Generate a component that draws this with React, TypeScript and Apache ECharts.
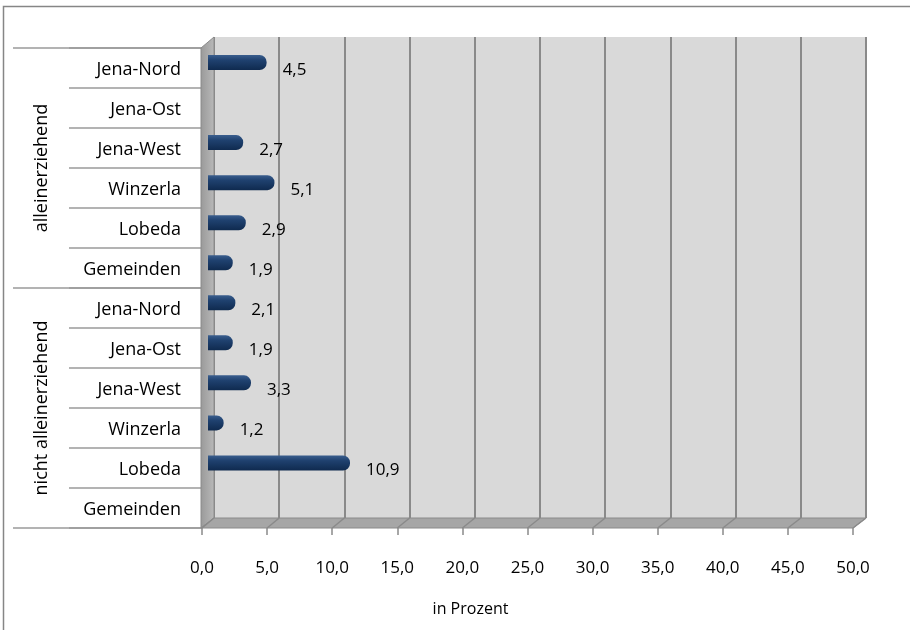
import React, { useEffect, useRef } from "react";
import * as echarts from "echarts";

const groups = ["alleinerziehend", "nicht alleinerziehend"];
const districts = ["Jena-Nord", "Jena-Ost", "Jena-West", "Winzerla", "Lobeda", "Gemeinden"];
const valuesAlleinerziehend: (number | null)[] = [4.5, null, 2.7, 5.1, 2.9, 1.9];
const valuesNichtAlleinerziehend: (number | null)[] = [2.1, 1.9, 3.3, 1.2, 10.9, null];
const axisMin = 0;
const axisMax = 50;
const axisInterval = 5;
const axisTitle = "in Prozent";

const fmt = (v: number) => v.toFixed(1).replace(".", ",");

export default function App() {
  const ref = useRef<HTMLDivElement>(null);
  useEffect(() => {
    if (!ref.current) return;
    const chart = echarts.init(ref.current, undefined, { renderer: "svg" });
    const keys = groups.flatMap((g) => districts.map((d) => g + "|" + d));
    const values = [...valuesAlleinerziehend, ...valuesNichtAlleinerziehend];
    const font = "'Open Sans', sans-serif";
    const gray = "#8a8a8a";

    const option: any = {
      animation: false,
      grid: [
        { left: 214, right: 44, top: 37, bottom: 112, show: true, backgroundColor: "#d9d9d9", borderWidth: 0, outerBoundsMode: "none", containLabel: false },
        { left: 202, right: 57, top: 48, bottom: 102, outerBoundsMode: "none", containLabel: false },
        { left: 208, right: 50.5, top: 42.5, bottom: 107, outerBoundsMode: "none", containLabel: false },
      ],
      xAxis: [
        {
          gridIndex: 0, type: "value", min: axisMin, max: axisMax, interval: axisInterval,
          axisLabel: { show: false }, axisLine: { show: false }, axisTick: { show: false },
          splitLine: { show: true, lineStyle: { color: gray, width: 2 } },
        },
        {
          gridIndex: 1, type: "value", min: axisMin, max: axisMax, interval: axisInterval,
          axisLine: { show: false },
          axisTick: { show: true, length: 7, lineStyle: { color: gray, width: 1.5 } },
          splitLine: { show: false },
          axisLabel: { formatter: (v: number) => fmt(v), margin: 30, fontSize: 17, color: "#000", fontFamily: font },
          name: axisTitle, nameLocation: "middle", nameGap: 72,
          nameTextStyle: { fontSize: 16, color: "#000", fontFamily: font, padding: [0, 114, 0, 0] },
        },
        {
          gridIndex: 2, type: "value", min: axisMin, max: axisMax, show: false,
        },
      ],
      yAxis: [
        { gridIndex: 0, type: "category", data: keys, inverse: true, show: false },
        {
          gridIndex: 1, type: "category", data: keys, inverse: true, offset: 1, position: "left",
          axisLine: { show: false },
          axisTick: { show: true, length: 133, alignWithLabel: false, lineStyle: { color: "#9a9a9a", width: 1.5 } },
          axisLabel: {
            interval: 0, margin: 20, fontSize: 18, color: "#000", fontFamily: font,
            formatter: (v: string) => v.split("|")[1],
          },
        },
        {
          gridIndex: 1, type: "category", data: groups, inverse: true, offset: 1, position: "left",
          axisLine: { show: false },
          axisTick: { show: true, length: 188, alignWithLabel: false, lineStyle: { color: "#9a9a9a", width: 1.5 } },
          axisLabel: { interval: 0, rotate: 90, margin: 152, fontSize: 18, color: "#000", fontFamily: font },
        },
        { gridIndex: 2, type: "category", data: keys, inverse: true, show: false },
      ],
      series: [
        {
          type: "bar",
          xAxisIndex: 2,
          yAxisIndex: 3,
          data: values,
          barWidth: 15,
          z: 5,
          itemStyle: {
            borderRadius: [0, 7, 7, 0],
            color: new echarts.graphic.LinearGradient(0, 0, 0, 1, [
              { offset: 0, color: "#3a5e8e" },
              { offset: 0.35, color: "#1f416f" },
              { offset: 1, color: "#0f2a4f" },
            ]),
          },
          label: {
            show: true,
            position: "right",
            distance: 16,
            offset: [0, 6],
            fontSize: 17,
            color: "#000",
            fontFamily: font,
            formatter: (p: any) => fmt(p.value),
          },
        },
      ],
    };
    chart.setOption(option);

    const ticks: number[] = [];
    for (let v = axisMin; v <= axisMax; v += axisInterval) ticks.push(v);
    const backY0 = 37, backY1 = 518, frontY1 = 528, frontTop = 48;
    const xb = (v: number) => chart.convertToPixel({ xAxisIndex: 0 }, v) as number;
    const xf = (v: number) => chart.convertToPixel({ xAxisIndex: 1 }, v) as number;
    const wallL = 201;
    const graphic: any[] = [
      {
        type: "rect", shape: { x: 3.5, y: 6.5, width: 910, height: 630 }, silent: true,
        style: { fill: "none", stroke: "#868686", lineWidth: 1.5 }, z: 0,
      },
      {
        type: "polygon", silent: true, z: 1,
        shape: { points: [[wallL, frontTop], [xb(axisMin), backY0], [xb(axisMin), backY1], [wallL, frontY1]] },
        style: {
          fill: new echarts.graphic.LinearGradient(0, 0, 1, 0, [
            { offset: 0, color: "#9a9a9a" },
            { offset: 1, color: "#b8b8b8" },
          ]),
          stroke: gray, lineWidth: 1,
        },
      },
      {
        type: "polygon", silent: true, z: 1,
        shape: { points: [[wallL, frontY1], [xb(axisMin), backY1], [xb(axisMax), backY1], [xf(axisMax), frontY1]] },
        style: { fill: "#a6a6a6", stroke: gray, lineWidth: 1 },
      },
      ...ticks.map((v) => ({
        type: "line", silent: true, z: 1,
        shape: { x1: xb(v), y1: backY1, x2: xf(v), y2: frontY1 },
        style: { stroke: gray, lineWidth: 1.5 },
      })),
    ];
    chart.setOption({ graphic });
    return () => chart.dispose();
  }, []);
  return <div ref={ref} style={{ position: "fixed", left: 0, top: 0, width: 910, height: 630 }} />;
}
